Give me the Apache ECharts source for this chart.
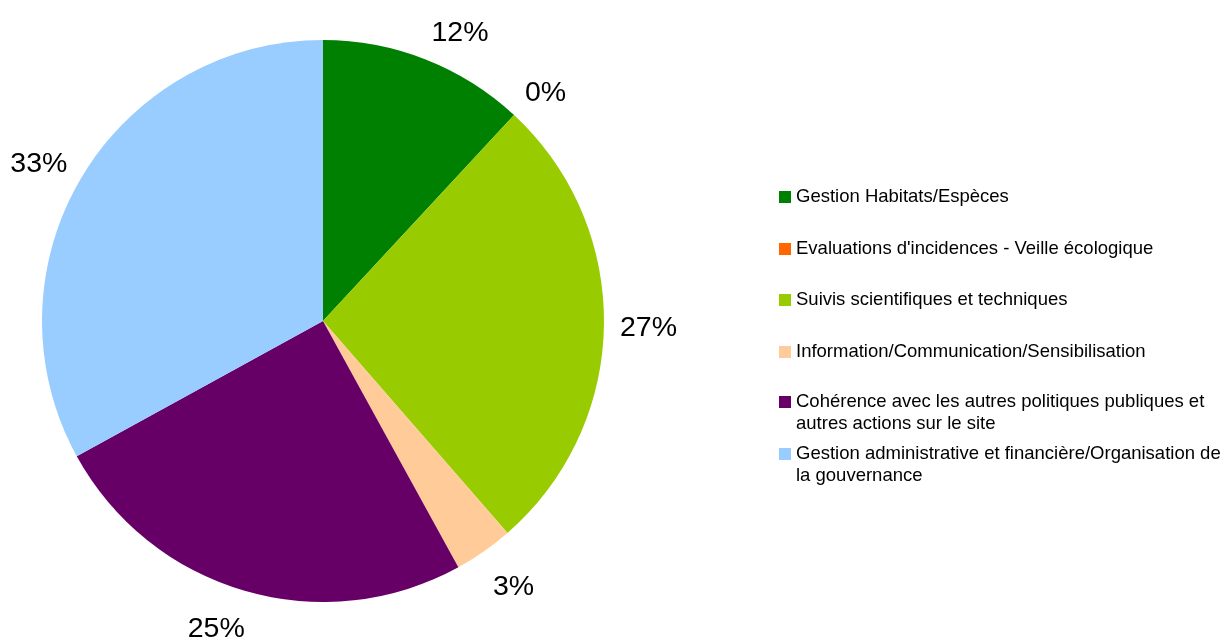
<!DOCTYPE html>
<html><head><meta charset="utf-8">
<script src="https://cdn.jsdelivr.net/npm/echarts@6/dist/echarts.min.js"></script>
<style>html,body{margin:0;padding:0;background:#fff}#c{width:1226px;height:638px}</style>
</head><body><div id="c"></div>
<script>
var categories = [
  "Gestion Habitats/Espèces",
  "Evaluations d'incidences - Veille écologique",
  "Suivis scientifiques et techniques",
  "Information/Communication/Sensibilisation",
  "Cohérence avec les autres politiques publiques et autres actions sur le site",
  "Gestion administrative et financière/Organisation de la gouvernance"
];
var legendLines = [
  "Gestion Habitats/Espèces",
  "Evaluations d'incidences - Veille écologique",
  "Suivis scientifiques et techniques",
  "Information/Communication/Sensibilisation",
  "Cohérence avec les autres politiques publiques et\nautres actions sur le site",
  "Gestion administrative et financière/Organisation de\nla gouvernance"
];
var values = [11.9, 0, 26.7, 3.4, 25.0, 33.0];
var colors = ["#008000", "#ff6600", "#99cc00", "#ffcc99", "#660066", "#99ccff"];

var font = "'Liberation Sans', Arial, sans-serif";
var pieCenter = [323, 321];
var legendTops = [187, 239, 290, 342, 369, 421];

var legends = categories.map(function (name, i) {
  var twoLine = legendLines[i].indexOf("\n") >= 0;
  return {
    orient: 'vertical',
    left: 779,
    top: legendTops[i],
    padding: 0,
    itemWidth: 12,
    itemHeight: 12,
    icon: 'rect',
    selectedMode: false,
    data: [name],
    formatter: function () { return twoLine ? "\n" + legendLines[i] : legendLines[i]; },
    textStyle: {
      fontFamily: font,
      fontSize: 18.5,
      color: '#000',
      lineHeight: twoLine ? 22 : 20
    }
  };
});

function clamp(v) { return Math.max(-1, Math.min(1, v)); }

var chart = echarts.init(document.getElementById('c'));
chart.setOption({
  animation: false,
  color: colors,
  legend: legends,
  series: [{
    type: 'pie',
    center: pieCenter,
    radius: 281,
    startAngle: 90,
    clockwise: true,
    avoidLabelOverlap: false,
    minShowLabelAngle: 0,
    data: categories.map(function (c, i) { return { name: c, value: values[i] }; }),
    label: {
      show: true,
      position: 'outside',
      fontFamily: font,
      fontSize: 28.5,
      color: '#000',
      formatter: function (p) { return Math.round(p.percent) + '%'; }
    },
    labelLine: { show: true, length: 16, length2: 0, lineStyle: { opacity: 0, width: 0 } },
    labelLayout: function (params) {
      var pts = params.labelLinePoints;
      if (!pts) return {};
      var P = pts[1];
      var dx = P[0] - pieCenter[0], dy = P[1] - pieCenter[1];
      var len = Math.sqrt(dx * dx + dy * dy) || 1;
      var s = dx / len, c = -dy / len;
      var w = params.labelRect.width;
      var sx = clamp(3 * s), sy = clamp(1.2 * c);
      var offY = sy > 0 ? -14 * sy : -20 * sy;
      return {
        x: P[0] + (w / 2) * sx,
        y: P[1] + offY + 2.5,
        align: 'center',
        verticalAlign: 'middle'
      };
    },
    itemStyle: { borderWidth: 0 },
    emphasis: { disabled: true }
  }]
});
</script></body></html>
